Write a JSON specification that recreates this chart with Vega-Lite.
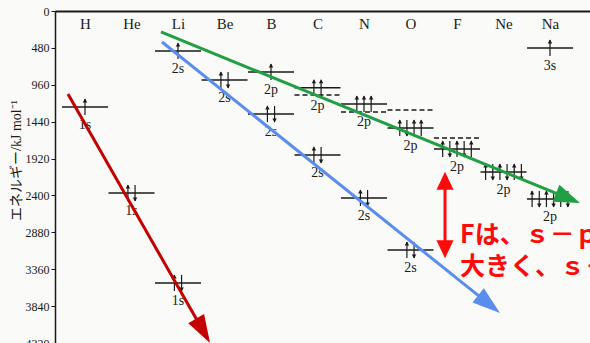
{
  "$schema": "https://vega.github.io/schema/vega-lite/v6.json",
  "width": 535,
  "height": 332,
  "autosize": "none",
  "padding": {"left": 55, "top": 11, "right": 0, "bottom": 0},
  "background": "#fafaf8",
  "config": {"view": {"stroke": null}, "axis": {"grid": false}},
  "resolve": {"scale": {"x": "independent"}},
  "datasets": {
    "levels": [
      {"el": 0, "E": 1249, "orb": "1s"},
      {"el": 1, "E": 2368, "orb": "1s"},
      {"el": 2, "E": 3539, "orb": "1s"},
      {"el": 2, "E": 520, "orb": "2s"},
      {"el": 3, "E": 898, "orb": "2s"},
      {"el": 4, "E": 794, "orb": "2p"},
      {"el": 4, "E": 1340, "orb": "2s"},
      {"el": 5, "E": 1000, "orb": "2p"},
      {"el": 5, "E": 1874, "orb": "2s"},
      {"el": 6, "E": 1210, "orb": "2p"},
      {"el": 6, "E": 2433, "orb": "2s"},
      {"el": 7, "E": 1522, "orb": "2p"},
      {"el": 7, "E": 3110, "orb": "2s"},
      {"el": 8, "E": 1796, "orb": "2p"},
      {"el": 9, "E": 2095, "orb": "2p"},
      {"el": 10, "E": 2446, "orb": "2p"},
      {"el": 10, "E": 481, "orb": "3s"}
    ],
    "electrons": [
      {"el": 0, "E": 1249, "k": 0, "s": "up"},
      {"el": 1, "E": 2368, "k": -0.5, "s": "up"}, {"el": 1, "E": 2368, "k": 0.5, "s": "down"},
      {"el": 2, "E": 3539, "k": -0.5, "s": "up"}, {"el": 2, "E": 3539, "k": 0.5, "s": "down"},
      {"el": 2, "E": 520, "k": 0, "s": "up"},
      {"el": 3, "E": 898, "k": -0.5, "s": "up"}, {"el": 3, "E": 898, "k": 0.5, "s": "down"},
      {"el": 4, "E": 794, "k": 0, "s": "up"},
      {"el": 4, "E": 1340, "k": -0.5, "s": "up"}, {"el": 4, "E": 1340, "k": 0.5, "s": "down"},
      {"el": 5, "E": 1000, "k": -0.5, "s": "up"}, {"el": 5, "E": 1000, "k": 0.5, "s": "up"},
      {"el": 5, "E": 1874, "k": -0.5, "s": "up"}, {"el": 5, "E": 1874, "k": 0.5, "s": "down"},
      {"el": 6, "E": 1210, "k": -1, "s": "up"}, {"el": 6, "E": 1210, "k": 0, "s": "up"}, {"el": 6, "E": 1210, "k": 1, "s": "up"},
      {"el": 6, "E": 2433, "k": -0.5, "s": "up"}, {"el": 6, "E": 2433, "k": 0.5, "s": "down"},
      {"el": 7, "E": 1522, "k": -1.5, "s": "up"}, {"el": 7, "E": 1522, "k": -0.5, "s": "down"},
      {"el": 7, "E": 1522, "k": 0.5, "s": "up"}, {"el": 7, "E": 1522, "k": 1.5, "s": "up"},
      {"el": 7, "E": 3110, "k": -0.5, "s": "up"}, {"el": 7, "E": 3110, "k": 0.5, "s": "down"},
      {"el": 8, "E": 1796, "k": -2, "s": "up"}, {"el": 8, "E": 1796, "k": -1, "s": "down"},
      {"el": 8, "E": 1796, "k": 0, "s": "up"}, {"el": 8, "E": 1796, "k": 1, "s": "down"},
      {"el": 8, "E": 1796, "k": 2, "s": "up"},
      {"el": 9, "E": 2095, "k": -2.5, "s": "up"}, {"el": 9, "E": 2095, "k": -1.5, "s": "down"},
      {"el": 9, "E": 2095, "k": -0.5, "s": "up"}, {"el": 9, "E": 2095, "k": 0.5, "s": "down"},
      {"el": 9, "E": 2095, "k": 1.5, "s": "up"}, {"el": 9, "E": 2095, "k": 2.5, "s": "down"},
      {"el": 10, "E": 2446, "k": -2.5, "s": "up"}, {"el": 10, "E": 2446, "k": -1.5, "s": "down"},
      {"el": 10, "E": 2446, "k": -0.5, "s": "up"}, {"el": 10, "E": 2446, "k": 0.5, "s": "down"},
      {"el": 10, "E": 2446, "k": 1.5, "s": "up"}, {"el": 10, "E": 2446, "k": 2.5, "s": "down"},
      {"el": 10, "E": 481, "k": 0, "s": "up"}
    ],
    "dashed": [
      {"el": 5, "E": 1093},
      {"el": 6, "E": 1314},
      {"el": 7, "E": 1288},
      {"el": 8, "E": 1653}
    ],
    "arrows": [
      {"arrow": "green", "pt": "start", "u": 1.634, "E": 273},
      {"arrow": "green", "pt": "tip", "u": 10.387, "E": 2435},
      {"arrow": "blue", "pt": "start", "u": 1.656, "E": 403},
      {"arrow": "blue", "pt": "tip", "u": 8.69, "E": 3815},
      {"arrow": "darkred", "pt": "start", "u": -0.366, "E": 1080},
      {"arrow": "darkred", "pt": "tip", "u": 2.54, "E": 4161},
      {"arrow": "red", "pt": "top", "u": 7.742, "E": 2208},
      {"arrow": "red", "pt": "bottom", "u": 7.742, "E": 3101}
    ],
    "notes": [
      {"t": "Fは、ｓ－ｐ", "u": 8.065, "E": 2915},
      {"t": "大きく、ｓ－", "u": 8.065, "E": 3331}
    ]
  },
  "encoding": {
    "y": {"field": "E", "type": "quantitative", "title": "エネルギー/kJ mol⁻¹",
          "scale": {"domain": [0, 4320], "reverse": true, "nice": false, "zero": false},
          "axis": {"values": [0, 480, 960, 1440, 1920, 2400, 2880, 3360, 3840, 4320], "format": "d", "labelOverlap": false,
                   "labelFont": "Liberation Serif", "labelFontSize": 12, "labelColor": "#1a1a1a", "labelPadding": 2,
                   "tickColor": "#1a1a1a", "tickSize": 4, "domainColor": "#1a1a1a", "domainWidth": 1.5,
                   "titleFont": "Liberation Serif, Noto Sans CJK JP", "titleFontSize": 14, "titleFontWeight": "normal",
                   "titleColor": "#1a1a1a", "titleX": -39, "titleY": 149, "titleAngle": -90,
                   "titleAlign": "center", "titleBaseline": "middle"}}
  },
  "layer": [
    {
      "data": {"name": "levels"},
      "mark": {"type": "rule", "xOffset": -23, "x2Offset": 23, "strokeWidth": 1.5, "color": "#1a1a1a"},
      "encoding": {
        "x": {"field": "el", "type": "quantitative", "title": null,
              "scale": {"domain": [-0.645, 10.86], "nice": false, "zero": false},
              "axis": {"orient": "top", "values": [0, 1, 2, 3, 4, 5, 6, 7, 8, 9, 10],
                       "labelExpr": "['H','He','Li','Be','B','C','N','O','F','Ne','Na'][datum.value]",
                       "labelFont": "Liberation Serif", "labelFontSize": 15, "labelColor": "#1a1a1a",
                       "labelBaseline": "alphabetic", "labelPadding": -17, "labelFlush": false, "labelOverlap": false,
                       "ticks": false, "tickSize": 0, "domainColor": "#1a1a1a", "domainWidth": 2}},
        "x2": {"field": "el"}
      }
    },
    {
      "data": {"name": "dashed"},
      "mark": {"type": "rule", "xOffset": -23, "x2Offset": 23, "strokeWidth": 1.5, "strokeDash": [5, 3], "color": "#1a1a1a"},
      "encoding": {
        "x": {"field": "el", "type": "quantitative", "axis": null,
              "scale": {"domain": [-0.645, 10.86], "nice": false, "zero": false}},
        "x2": {"field": "el"}
      }
    },
    {
      "data": {"name": "electrons"},
      "mark": {"type": "rule", "yOffset": -8, "y2Offset": 8, "strokeWidth": 1.2, "color": "#1a1a1a"},
      "encoding": {
        "x": {"field": "el", "type": "ordinal", "axis": null,
              "scale": {"type": "band", "domain": [0, 1, 2, 3, 4, 5, 6, 7, 8, 9, 10], "paddingInner": 0, "paddingOuter": 0.2527, "align": 0.287}},
        "xOffset": {"field": "k", "type": "ordinal",
                    "scale": {"domain": [-2.5, -2, -1.5, -1, -0.5, 0, 0.5, 1, 1.5, 2, 2.5], "paddingInner": 0, "paddingOuter": 1.65}},
        "y2": {"field": "E"}
      }
    },
    {
      "data": {"name": "electrons"},
      "transform": [{"filter": "datum.s == 'up'"}],
      "mark": {"type": "point", "shape": "triangle-up", "size": 20, "yOffset": -6.5, "filled": true, "opacity": 1, "strokeWidth": 0, "color": "#1a1a1a"},
      "encoding": {
        "x": {"field": "el", "type": "ordinal", "axis": null,
              "scale": {"type": "band", "domain": [0, 1, 2, 3, 4, 5, 6, 7, 8, 9, 10], "paddingInner": 0, "paddingOuter": 0.2527, "align": 0.287}},
        "xOffset": {"field": "k", "type": "ordinal",
                    "scale": {"domain": [-2.5, -2, -1.5, -1, -0.5, 0, 0.5, 1, 1.5, 2, 2.5], "paddingInner": 0, "paddingOuter": 1.65}}
      }
    },
    {
      "data": {"name": "electrons"},
      "transform": [{"filter": "datum.s == 'down'"}],
      "mark": {"type": "point", "shape": "triangle-down", "size": 20, "yOffset": 6.5, "filled": true, "opacity": 1, "strokeWidth": 0, "color": "#1a1a1a"},
      "encoding": {
        "x": {"field": "el", "type": "ordinal", "axis": null,
              "scale": {"type": "band", "domain": [0, 1, 2, 3, 4, 5, 6, 7, 8, 9, 10], "paddingInner": 0, "paddingOuter": 0.2527, "align": 0.287}},
        "xOffset": {"field": "k", "type": "ordinal",
                    "scale": {"domain": [-2.5, -2, -1.5, -1, -0.5, 0, 0.5, 1, 1.5, 2, 2.5], "paddingInner": 0, "paddingOuter": 1.65}}
      }
    },
    {
      "data": {"name": "levels"},
      "mark": {"type": "text", "font": "Liberation Serif", "fontSize": 14, "baseline": "alphabetic", "align": "center", "dy": 22, "color": "#1a1a1a"},
      "encoding": {
        "x": {"field": "el", "type": "quantitative", "axis": null,
              "scale": {"domain": [-0.645, 10.86], "nice": false, "zero": false}},
        "text": {"field": "orb"}
      }
    },
    {
      "data": {"name": "arrows"},
      "mark": {"type": "line", "strokeCap": "butt"},
      "encoding": {
        "x": {"field": "u", "type": "quantitative", "axis": null,
              "scale": {"domain": [-0.645, 10.86], "nice": false, "zero": false}},
        "detail": {"field": "arrow"},
        "color": {"field": "arrow", "type": "nominal", "legend": null,
                  "scale": {"domain": ["green", "blue", "darkred", "red"], "range": ["#20a043", "#5b8def", "#c40000", "#ff0a0a"]}},
        "strokeWidth": {"field": "arrow", "type": "nominal", "legend": null,
                        "scale": {"domain": ["green", "blue", "darkred", "red"], "range": [3, 3, 3, 5]}}
      }
    },
    {
      "data": {"name": "arrows"},
      "transform": [{"filter": "datum.arrow == 'green' && datum.pt == 'tip'"}],
      "mark": {"type": "point", "shape": "M0,-1L0.7,1L-0.7,1Z", "size": 676, "angle": 112.2, "filled": true, "opacity": 1, "strokeWidth": 0, "color": "#20a043"},
      "encoding": {
        "x": {"field": "u", "type": "quantitative", "axis": null,
              "scale": {"domain": [-0.645, 10.86], "nice": false, "zero": false}}
      }
    },
    {
      "data": {"name": "arrows"},
      "transform": [{"filter": "datum.arrow == 'blue' && datum.pt == 'tip'"}],
      "mark": {"type": "point", "shape": "M0,-1L0.65,1L-0.65,1Z", "size": 784, "angle": 128.7, "filled": true, "opacity": 1, "strokeWidth": 0, "color": "#5b8def"},
      "encoding": {
        "x": {"field": "u", "type": "quantitative", "axis": null,
              "scale": {"domain": [-0.645, 10.86], "nice": false, "zero": false}}
      }
    },
    {
      "data": {"name": "arrows"},
      "transform": [{"filter": "datum.arrow == 'darkred' && datum.pt == 'tip'"}],
      "mark": {"type": "point", "shape": "M0,-1L0.65,1L-0.65,1Z", "size": 784, "angle": 150.3, "filled": true, "opacity": 1, "strokeWidth": 0, "color": "#c40000"},
      "encoding": {
        "x": {"field": "u", "type": "quantitative", "axis": null,
              "scale": {"domain": [-0.645, 10.86], "nice": false, "zero": false}}
      }
    },
    {
      "data": {"name": "arrows"},
      "transform": [{"filter": "datum.arrow == 'red' && datum.pt == 'top'"}],
      "mark": {"type": "point", "shape": "M0,-1L0.95,1L-0.95,1Z", "size": 324, "angle": 0, "filled": true, "opacity": 1, "strokeWidth": 0, "color": "#ff0a0a"},
      "encoding": {
        "x": {"field": "u", "type": "quantitative", "axis": null,
              "scale": {"domain": [-0.645, 10.86], "nice": false, "zero": false}}
      }
    },
    {
      "data": {"name": "arrows"},
      "transform": [{"filter": "datum.arrow == 'red' && datum.pt == 'bottom'"}],
      "mark": {"type": "point", "shape": "M0,-1L0.95,1L-0.95,1Z", "size": 324, "angle": 180, "filled": true, "opacity": 1, "strokeWidth": 0, "color": "#ff0a0a"},
      "encoding": {
        "x": {"field": "u", "type": "quantitative", "axis": null,
              "scale": {"domain": [-0.645, 10.86], "nice": false, "zero": false}}
      }
    },
    {
      "data": {"name": "notes"},
      "mark": {"type": "text", "font": "Noto Sans CJK JP", "fontSize": 25, "fontWeight": "bold", "baseline": "middle", "align": "left", "color": "#ff0a0a"},
      "encoding": {
        "x": {"field": "u", "type": "quantitative", "axis": null,
              "scale": {"domain": [-0.645, 10.86], "nice": false, "zero": false}},
        "text": {"field": "t"}
      }
    }
  ]
}
